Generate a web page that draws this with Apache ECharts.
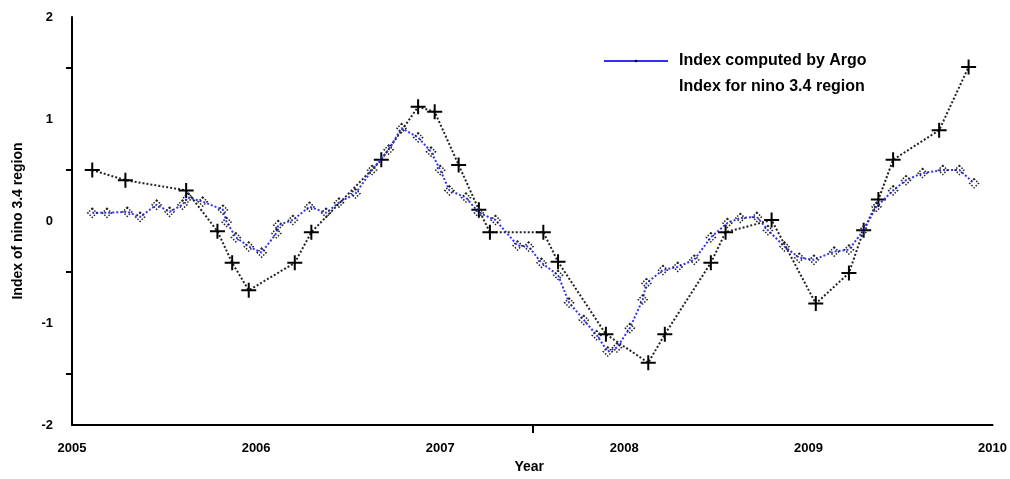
<!DOCTYPE html>
<html>
<head>
<meta charset="utf-8">
<script src="https://cdn.jsdelivr.net/npm/echarts@6/dist/echarts.min.js"></script>
<style>
html,body{margin:0;padding:0;background:#fff;}
#chart{width:1010px;height:479px;}
</style>
</head>
<body>
<div id="chart"></div>
<script>
// Year labels and value ticks
const yearLabels = [2005, 2006, 2007, 2008, 2009, 2010];
const valueLabels = [-2, -1, 0, 1, 2];
const yearTicks = [2007.5];
const valueTicks = [-1.5, -0.5, 0.5, 1.5];

// Index computed by Argo: [year, index]
const argoYears = [2005.11,2005.19,2005.30,2005.37,2005.46,2005.53,2005.60,2005.63,2005.71,2005.82,2005.84,2005.89,2005.96,2006.03,2006.11,2006.12,2006.20,2006.29,2006.38,2006.45,2006.54,2006.63,2006.72,2006.79,2006.88,2006.95,2007.00,2007.05,2007.14,2007.21,2007.30,2007.42,2007.48,2007.55,2007.64,2007.70,2007.78,2007.85,2007.91,2007.96,2008.03,2008.10,2008.12,2008.21,2008.29,2008.38,2008.47,2008.56,2008.63,2008.72,2008.78,2008.87,2008.95,2009.03,2009.14,2009.22,2009.30,2009.37,2009.46,2009.53,2009.62,2009.73,2009.82,2009.90];
const argoValues = [0.08,0.08,0.09,0.04,0.16,0.09,0.16,0.23,0.19,0.11,-0.01,-0.16,-0.25,-0.31,-0.12,-0.04,0.01,0.14,0.08,0.18,0.27,0.50,0.70,0.91,0.82,0.68,0.50,0.30,0.23,0.08,0.01,-0.24,-0.25,-0.41,-0.53,-0.80,-0.97,-1.12,-1.28,-1.24,-1.05,-0.77,-0.61,-0.48,-0.45,-0.38,-0.16,-0.02,0.03,0.04,-0.09,-0.25,-0.36,-0.38,-0.30,-0.28,-0.09,0.14,0.30,0.40,0.47,0.50,0.50,0.37];

// Index for nino 3.4 region: [year, index]
const ninoYears = [2005.11,2005.29,2005.62,2005.79,2005.87,2005.96,2006.21,2006.30,2006.68,2006.88,2006.97,2007.10,2007.21,2007.27,2007.56,2007.64,2007.90,2008.13,2008.22,2008.47,2008.55,2008.80,2009.04,2009.22,2009.30,2009.38,2009.46,2009.71,2009.87];
const ninoValues = [0.50,0.40,0.30,-0.10,-0.41,-0.68,-0.41,-0.11,0.60,1.12,1.07,0.55,0.11,-0.11,-0.11,-0.40,-1.11,-1.39,-1.11,-0.41,-0.11,0.01,-0.81,-0.51,-0.09,0.21,0.60,0.89,1.51];

const argoData = argoYears.map((x, i) => [x, argoValues[i]]);
const ninoData = ninoYears.map((x, i) => [x, ninoValues[i]]);

const chart = echarts.init(document.getElementById('chart'));
const font = 'Liberation Sans, Arial, sans-serif';
chart.setOption({
  animation: false,
  backgroundColor: '#fff',
  textStyle: {fontFamily: font, color: '#000'},
  grid: {left: 72, right: 12, top: 17, bottom: 54},
  legend: {
    orient: 'vertical',
    left: 598,
    top: 48,
    itemWidth: 64,
    itemHeight: 4,
    itemGap: 10,
    selectedMode: false,
    textStyle: {fontFamily: font, fontWeight: 'bold', fontSize: 16, color: '#000', padding: [0, 0, 0, 6]},
    data: [
      {name: 'Index computed by Argo',
       itemStyle: {color: '#000', borderWidth: 0},
       lineStyle: {type: 'solid', color: '#3030ff', width: 2}},
      {name: 'Index for nino 3.4 region',
       itemStyle: {opacity: 0},
       lineStyle: {opacity: 0}}
    ]
  },
  xAxis: {
    type: 'value', min: 2005, max: 2010, interval: 1,
    name: 'Year', nameLocation: 'middle', nameGap: 35,
    nameTextStyle: {fontFamily: font, fontWeight: 'bold', fontSize: 14, color: '#000', padding: [0, 6, 0, 0]},
    axisLine: {show: true, onZero: false, lineStyle: {color: '#000', width: 2}},
    axisTick: {show: true, customValues: yearTicks, length: 8, lineStyle: {color: '#000', width: 2}},
    axisLabel: {customValues: yearLabels, formatter: v => String(v), margin: 17, fontFamily: font, fontWeight: 'bold', fontSize: 13, color: '#000'},
    splitLine: {show: false}
  },
  yAxis: {
    type: 'value', min: -2, max: 2, interval: 1,
    name: 'Index of nino 3.4 region', nameLocation: 'middle', nameGap: 47,
    nameTextStyle: {fontFamily: font, fontWeight: 'bold', fontSize: 14, color: '#000'},
    axisLine: {show: true, onZero: false, lineStyle: {color: '#000', width: 2}},
    axisTick: {show: true, customValues: valueTicks, length: 6, lineStyle: {color: '#000', width: 2}},
    axisLabel: {customValues: valueLabels, margin: 19, fontFamily: font, fontWeight: 'bold', fontSize: 13, color: '#000'},
    splitLine: {show: false}
  },
  series: [{
    name: 'Index computed by Argo',
    type: 'line',
    data: argoData,
    symbol: 'diamond',
    symbolSize: 9,
    lineStyle: {color: '#3030ff', width: 2, type: 'dotted'},
    itemStyle: {color: 'rgba(0,0,0,0)', borderColor: '#222', borderWidth: 1.5, borderType: 'dotted'},
    z: 3
  }, {
    name: 'Index for nino 3.4 region',
    type: 'line',
    data: ninoData,
    symbol: 'path://M7,0L7,14M0,7L14,7',
    symbolSize: 15,
    lineStyle: {color: '#222', width: 2, type: 'dotted'},
    itemStyle: {color: 'rgba(0,0,0,0)', borderColor: '#000', borderWidth: 2},
    z: 2
  }]
});
</script>
</body>
</html>
